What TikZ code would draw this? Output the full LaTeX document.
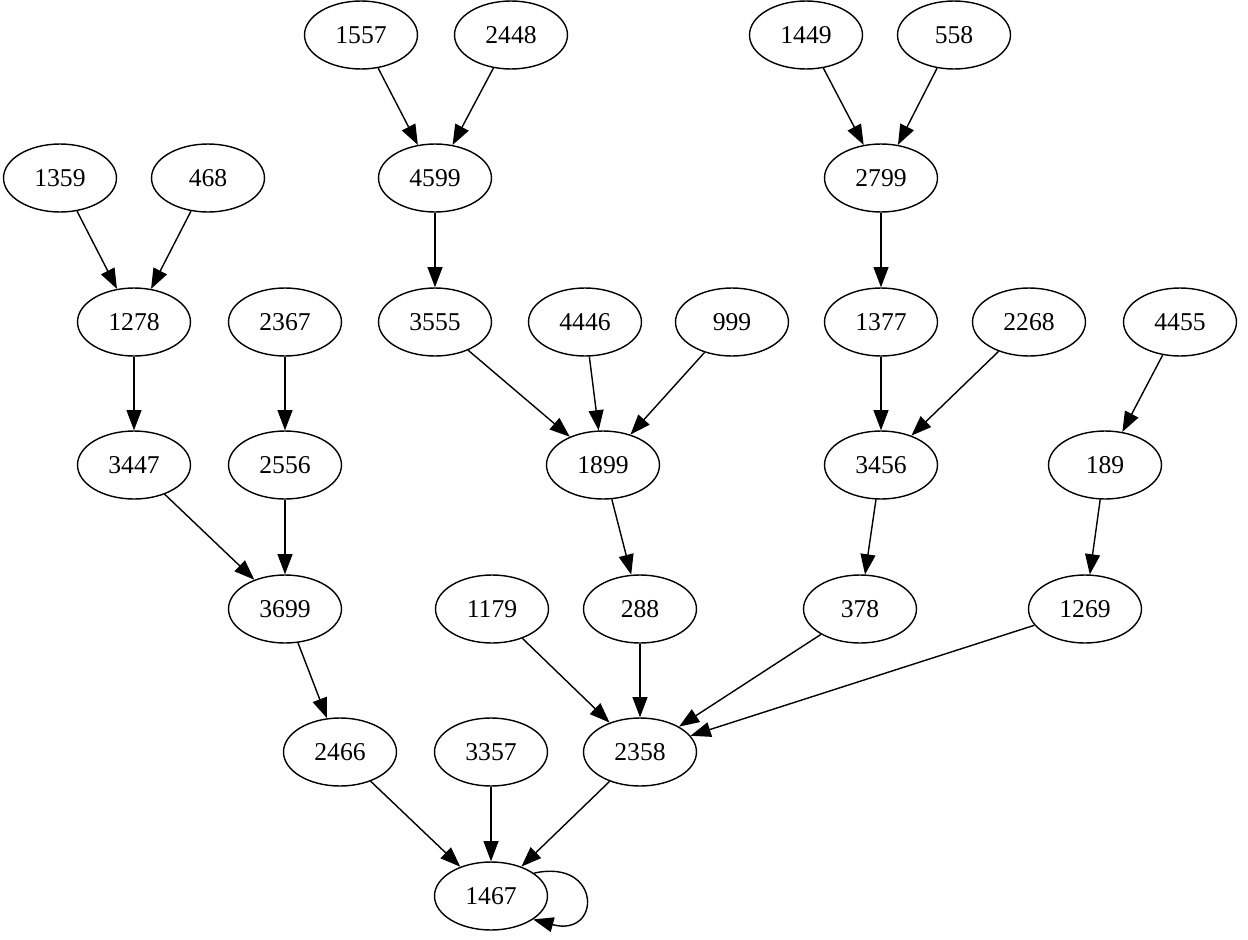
\documentclass[tikz,border=0pt]{standalone}
\usepackage{fontspec}
\setmainfont{Liberation Serif}
\usetikzlibrary{shapes.geometric,arrows.meta}
\begin{document}
\begin{tikzpicture}[x=0.02cm,y=-0.02cm,
  nd/.style={draw,ellipse,line width=0.8pt,minimum width=2.26cm,minimum height=1.36cm,inner sep=0pt,font=\fontsize{14.6}{16}\selectfont},
  ed/.style={line width=0.8pt,-{Triangle[length=11.5pt,width=8.5pt]}}]
\useasboundingbox (0,0) rectangle (1248,940);
% row 1
\node[nd] (n1557) at (361,35) {1557};
\node[nd] (n2448) at (511,35) {2448};
\node[nd] (n1449) at (806,35) {1449};
\node[nd] (n558) at (954,35) {558};
% row 2
\node[nd] (n1359) at (60,178) {1359};
\node[nd] (n468) at (208,178) {468};
\node[nd] (n4599) at (435,178) {4599};
\node[nd] (n2799) at (881,178) {2799};
% row 3
\node[nd] (n1278) at (134,322) {1278};
\node[nd] (n2367) at (285,322) {2367};
\node[nd] (n3555) at (435,322) {3555};
\node[nd] (n4446) at (585,322) {4446};
\node[nd] (n999) at (732,322) {999};
\node[nd] (n1377) at (881,322) {1377};
\node[nd] (n2268) at (1029,322) {2268};
\node[nd] (n4455) at (1180,322) {4455};
% row 4
\node[nd] (n3447) at (134,465) {3447};
\node[nd] (n2556) at (285,465) {2556};
\node[nd] (n1899) at (603,465) {1899};
\node[nd] (n3456) at (881,465) {3456};
\node[nd] (n189) at (1105,465) {189};
% row 5
\node[nd] (n3699) at (285,609) {3699};
\node[nd] (n1179) at (492,609) {1179};
\node[nd] (n288) at (640,609) {288};
\node[nd] (n378) at (860,609) {378};
\node[nd] (n1269) at (1085,609) {1269};
% row 6
\node[nd] (n2466) at (340,752) {2466};
\node[nd] (n3357) at (491,752) {3357};
\node[nd] (n2358) at (640,752) {2358};
% row 7
\node[nd] (n1467) at (491,896) {1467};
% edges
\draw[ed] (n1557) -- (n4599);
\draw[ed] (n2448) -- (n4599);
\draw[ed] (n1449) -- (n2799);
\draw[ed] (n558) -- (n2799);
\draw[ed] (n1359) -- (n1278);
\draw[ed] (n468) -- (n1278);
\draw[ed] (n4599) -- (n3555);
\draw[ed] (n2799) -- (n1377);
\draw[ed] (n1278) -- (n3447);
\draw[ed] (n2367) -- (n2556);
\draw[ed] (n3555) -- (n1899);
\draw[ed] (n4446) -- (n1899);
\draw[ed] (n999) -- (n1899);
\draw[ed] (n1377) -- (n3456);
\draw[ed] (n2268) -- (n3456);
\draw[ed] (n4455) -- (n189);
\draw[ed] (n3447) -- (n3699);
\draw[ed] (n2556) -- (n3699);
\draw[ed] (n1899) -- (n288);
\draw[ed] (n3456) -- (n378);
\draw[ed] (n189) -- (n1269);
\draw[ed] (n3699) -- (n2466);
\draw[ed] (n1179) -- (n2358);
\draw[ed] (n288) -- (n2358);
\draw[ed] (n378) -- (n2358);
\draw[ed] (n1269) -- (n2358);
\draw[ed] (n2466) -- (n1467);
\draw[ed] (n3357) -- (n1467);
\draw[ed] (n2358) -- (n1467);
\draw[ed] (n1467.28) .. controls (602,858) and (602,938) .. (n1467.-29);
\end{tikzpicture}
\end{document}
